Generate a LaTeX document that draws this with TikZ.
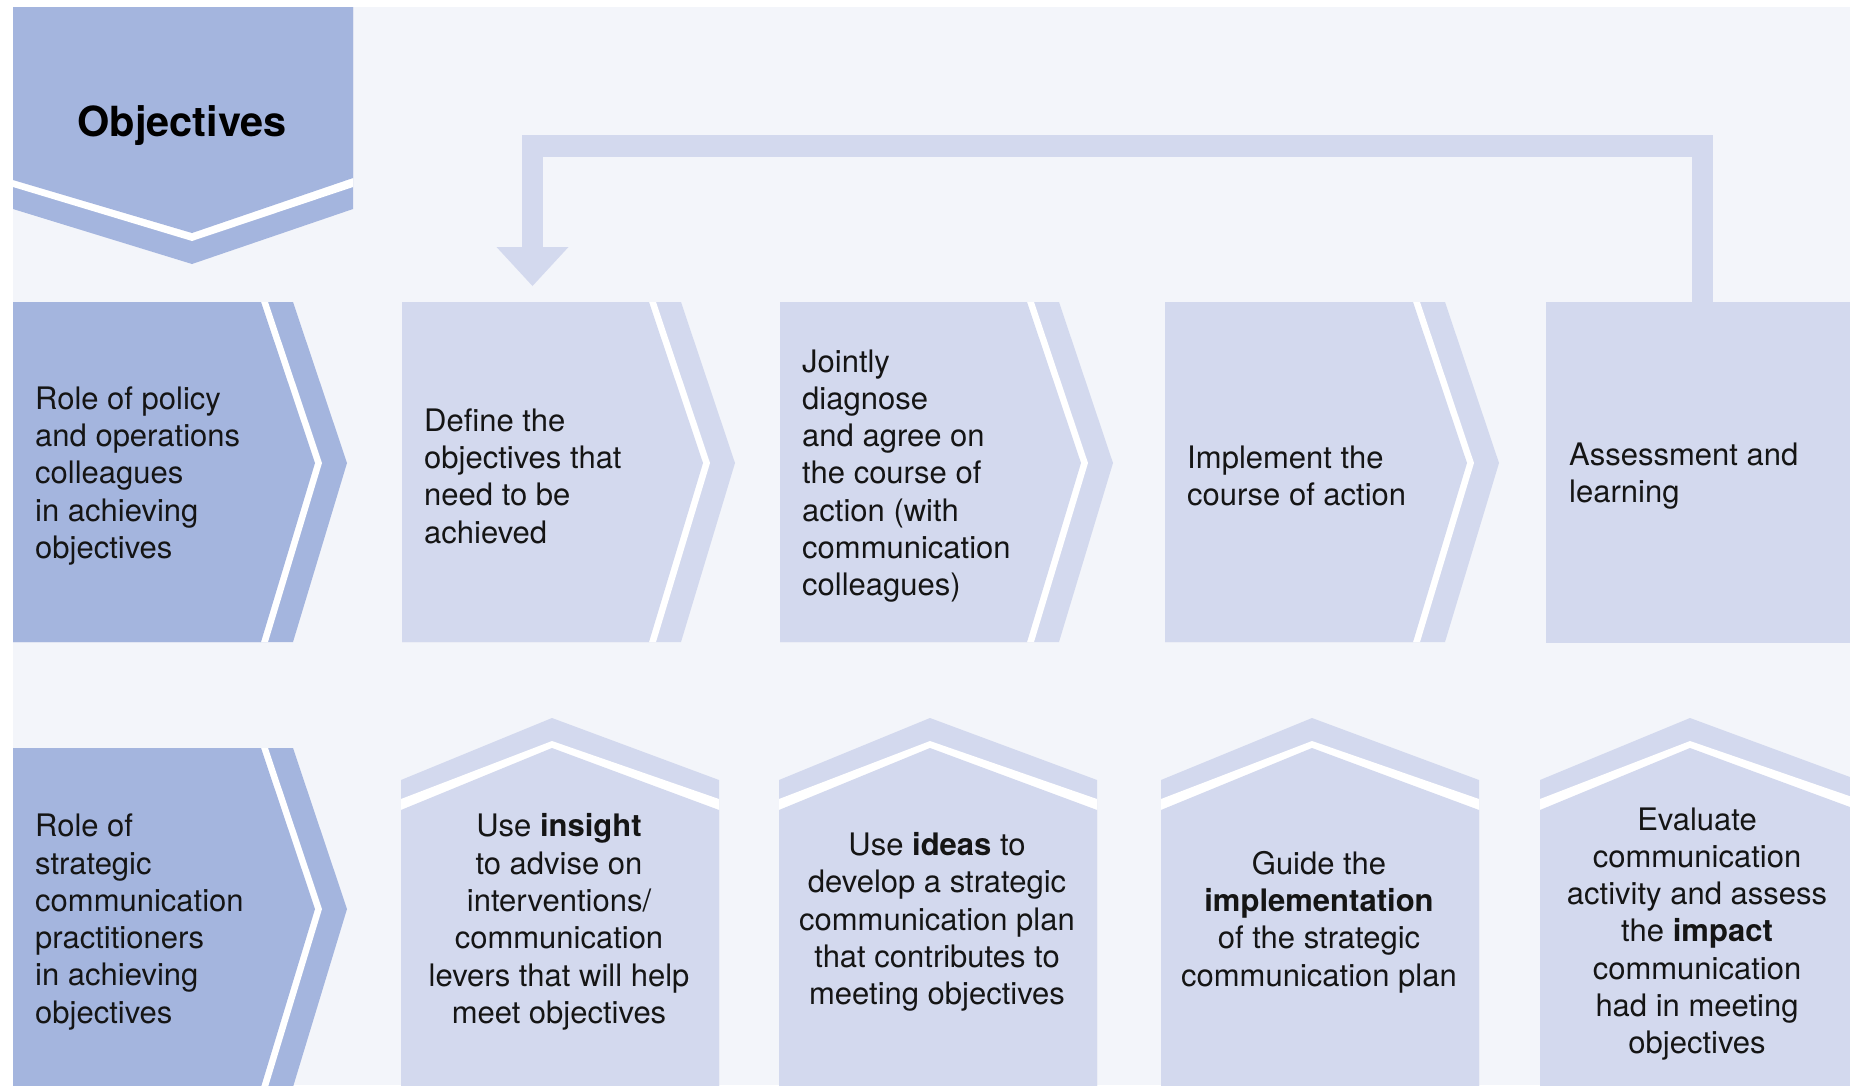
\documentclass[tikz,border=0pt]{standalone}
\usepackage{fontspec}
\setmainfont{TeX Gyre Heros}
\usetikzlibrary{calc}

\definecolor{roleblue}{HTML}{A4B5DE}
\definecolor{steplight}{HTML}{D3D9EE}
\definecolor{pagebg}{HTML}{F3F5FA}
\definecolor{ink}{HTML}{151515}

% Chevron panel: left x, top y, tip y, bottom y, right x of the face, colour
\newcommand{\arrowpanel}[6]{%
  \fill[#6] (#1,#2) -- ({#5+32},#2) -- ({#5+86},#3) -- ({#5+32},#4) -- (#1,#4) -- cycle;
  \fill[white] (#1,#2) -- ({#5+7},#2) -- ({#5+61},#3) -- ({#5+7},#4) -- (#1,#4) -- cycle;
  \fill[#6] (#1,#2) -- (#5,#2) -- ({#5+54},#3) -- (#5,#4) -- (#1,#4) -- cycle;
}
% Upward-pointing panel: left x, apex x, right x, colour
\newcommand{\housepanel}[4]{%
  \fill[#4] (#1,1095) -- (#1,780) -- (#2,718) -- (#3,780) -- (#3,1095) -- cycle;
  \fill[white] (#1,1095) -- (#1,799) -- (#2,741) -- (#3,799) -- (#3,1095) -- cycle;
  \fill[#4] (#1,1095) -- (#1,810) -- (#2,748) -- (#3,810) -- (#3,1095) -- cycle;
}

\begin{document}
\begin{tikzpicture}[x=1pt,y=-1pt,
  body/.style={font=\fontsize{31}{37.3}\selectfont, text=ink, inner sep=0pt},
  lefttext/.style={body, align=left, anchor=west},
  midtext/.style={body, align=center},
  loopline/.style={draw=steplight, line width=21.5pt, line join=miter, line cap=butt},
]
\useasboundingbox (0,0) rectangle (1850,1085);
\clip (0,0) rectangle (1850,1085);
\fill[white] (0,0) rectangle (1850,1085);
\fill[pagebg] (13,7) rectangle (1850,1085);

% Objectives banner
\fill[roleblue] (13,7) -- (353,7) -- (353,209) -- (192,264) -- (13,209) -- cycle;
\fill[white] (13,7) -- (353,7) -- (353,187) -- (192,241) -- (13,187) -- cycle;
\fill[roleblue] (13,7) -- (353,7) -- (353,178) -- (192,233) -- (13,180) -- cycle;
\node[font=\fontsize{41.5}{49}\selectfont\bfseries, text=black, inner sep=0pt, anchor=base]
  (objectives) at (182,136) {Objectives};

% Feedback loop from assessment back to defining objectives
\coordinate (loopS) at (1702.5,302);
\coordinate (loopE) at (532.5,286);
\coordinate (loopTop) at (0,146);
\draw[loopline] (loopS) -- (loopS |- loopTop) -- (loopE |- loopTop) -- ($(loopE)+(0,-39)$);
\fill[steplight] ($(loopE)+(-36,-39)$) -- ($(loopE)+(36,-39)$) -- (loopE) -- cycle;

% Top row
\arrowpanel{13}{302}{463}{642}{261}{roleblue}
\arrowpanel{402}{302}{463}{642}{649}{steplight}
\arrowpanel{780}{302}{463}{642}{1027}{steplight}
\arrowpanel{1165}{302}{463}{642}{1413}{steplight}
\fill[steplight] (1546,302) rectangle (1850,643);

% Bottom row
\arrowpanel{13}{748}{909}{1087}{261}{roleblue}
\housepanel{401}{552}{719}{steplight}
\housepanel{779}{930}{1097}{steplight}
\housepanel{1161}{1312}{1479}{steplight}
\housepanel{1540}{1690}{1858}{steplight}

% Top row texts
\node[lefttext] (policy) at (35,476) {Role of policy\\and operations\\colleagues\\in achieving\\objectives};
\node[lefttext] (define) at (424,476) {Define the\\objectives that\\need to be\\achieved};
\node[lefttext] (diagnose) at (802,476) {Jointly\\diagnose\\and agree on\\the course of\\action (with\\communication\\colleagues)};
\node[lefttext] (implement) at (1187,476) {Implement the\\course of action};
\node[lefttext] (assess) at (1569,476) {Assessment and\\learning};

% Bottom row texts
\node[lefttext] (comms) at (35,922) {Role of\\strategic\\communication\\practitioners\\in achieving\\objectives};
\node[midtext] (insight) at (559,922) {Use \textbf{insight}\\to advise on\\interventions/\\communication\\levers that will help\\meet objectives};
\node[midtext] (ideas) at (937,922) {Use \textbf{ideas} to\\develop a strategic\\communication plan\\that contributes to\\meeting objectives};
\node[midtext] (guide) at (1319,922) {Guide the\\\textbf{implementation}\\of the strategic\\communication plan};
\node[midtext] (evaluate) at (1697,934) {Evaluate\\communication\\activity and assess\\the \textbf{impact}\\communication\\had in meeting\\objectives};
\end{tikzpicture}
\end{document}
